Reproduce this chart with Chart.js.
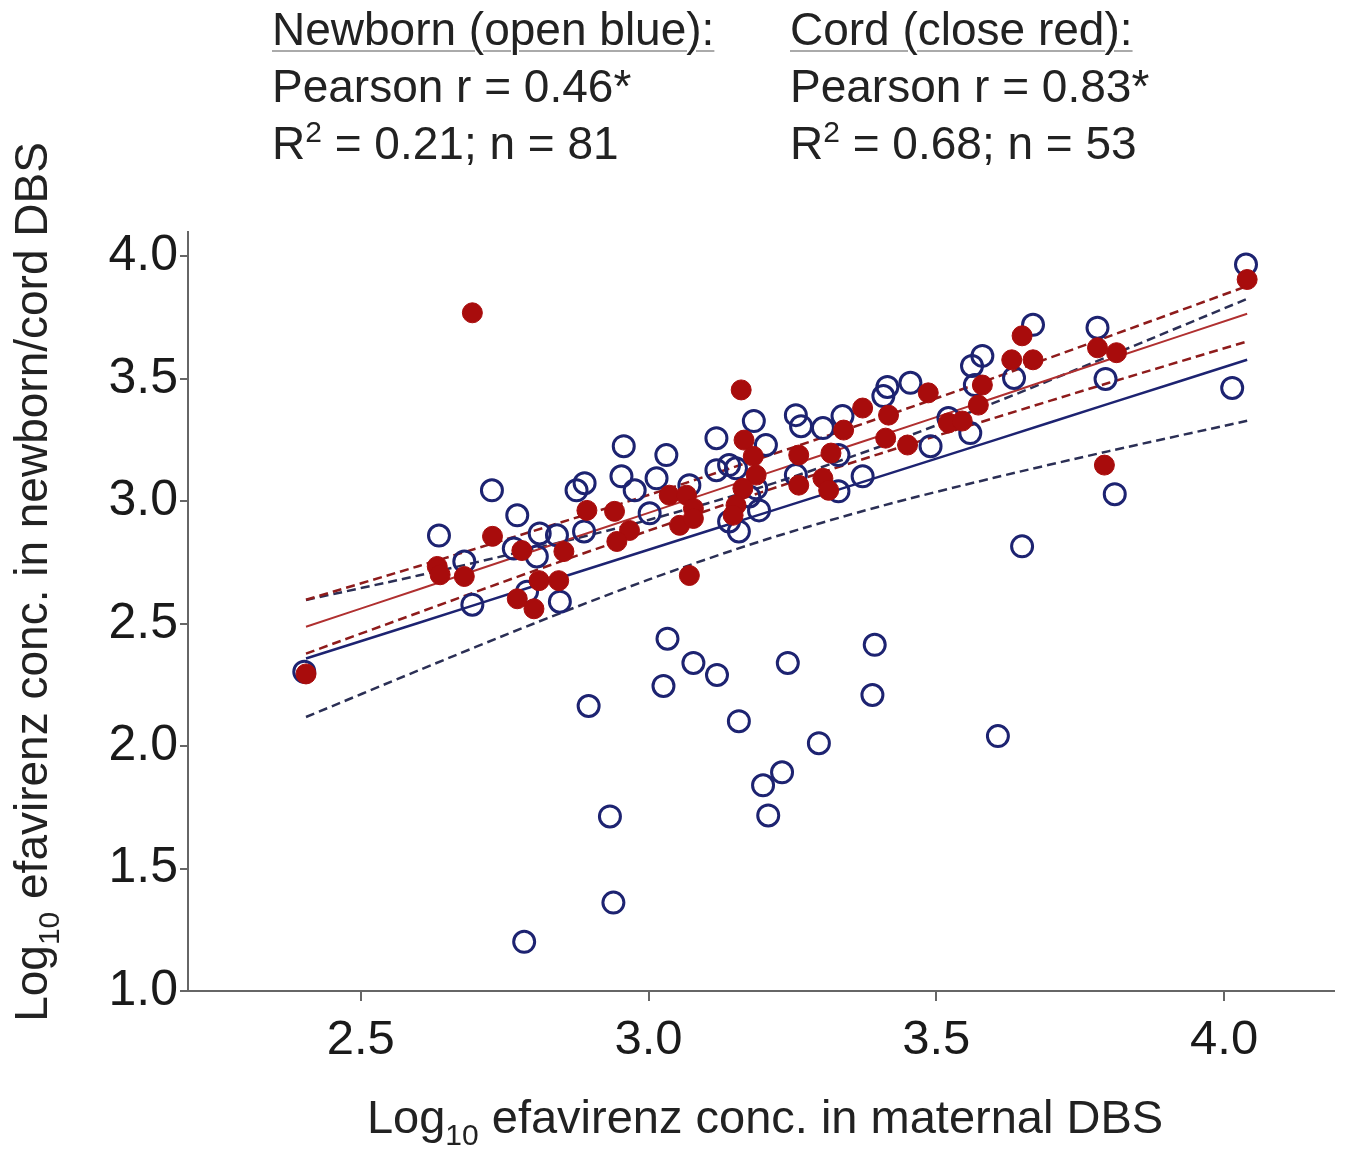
<!DOCTYPE html>
<html>
<head>
<meta charset="utf-8">
<script src="https://cdn.jsdelivr.net/npm/chart.js@4.4.1/dist/chart.umd.min.js"></script>
<style>
  body { margin: 0; background: #fff; font-family: "Liberation Sans", Arial, sans-serif; color: #222; }
  #wrap { position: relative; width: 1347px; height: 1149px; overflow: hidden; }
  #wrap canvas { position: absolute; left: 0; top: 0; }
  .note { position: absolute; top: 1px; font-size: 46px; line-height: 57px; white-space: nowrap; }
  .note u { text-decoration-color: #aaa; text-decoration-thickness: 2px; text-underline-offset: 5px; }
  .sup { font-size: 30px; position: relative; top: -17px; }
  .sub { font-size: 30px; position: relative; top: 12px; }
  .title { position: absolute; line-height: 57px; white-space: nowrap; text-align: center; }
  #xtitle { font-size: 47px; left: 265px; width: 1000px; top: 1088px; }
  #ytitle { font-size: 46px; left: -466px; width: 1000px; top: 551px; transform: rotate(-90deg); }
</style>
</head>
<body>
<div id="wrap">
  <canvas id="scatterChart"></canvas>
  <div class="note" style="left:272px"><u>Newborn (open blue):</u><br>Pearson r = 0.46*<br>R<span class="sup">2</span> = 0.21; n = 81</div>
  <div class="note" style="left:790px"><u>Cord (close red):</u><br>Pearson r = 0.83*<br>R<span class="sup">2</span> = 0.68; n = 53</div>
  <div class="title" id="xtitle">Log<span class="sub">10</span> efavirenz conc. in maternal DBS</div>
  <div class="title" id="ytitle">Log<span class="sub">10</span> efavirenz conc. in newborn/cord DBS</div>
</div>
<script>
// newborn DBS (open blue circles)
const newbornX = [2.402, 2.636, 2.680, 2.694, 2.728, 2.772, 2.766, 2.806, 2.811, 2.841, 2.846, 2.789, 2.875, 2.889, 2.888,
  2.957, 2.953, 2.976, 3.014, 3.031, 3.002, 3.071, 3.118, 3.118, 3.140, 3.152, 3.183, 3.204, 3.175, 3.192, 3.157, 3.140,
  3.187, 3.256, 3.265, 3.303, 3.337, 3.256, 3.330, 3.372, 3.330, 3.408, 3.415, 3.455, 3.490, 3.521, 3.559, 3.562, 3.580,
  3.567, 3.635, 3.668, 3.780, 3.794, 4.014, 4.038, 3.810, 3.649, 3.607, 3.033, 3.078, 3.119, 3.026, 3.242, 3.393, 3.389,
  2.896, 3.157, 3.296, 3.232, 3.199, 3.208, 2.933, 2.939, 2.784];
const newbornY = [2.304, 2.860, 2.754, 2.578, 3.045, 2.943, 2.807, 2.775, 2.869, 2.861, 2.590, 2.631, 3.045, 3.074, 2.877,
  3.225, 3.102, 3.045, 3.094, 3.189, 2.951, 3.066, 3.258, 3.127, 3.148, 3.135, 3.328, 3.230, 3.020, 2.963, 2.877, 2.918,
  3.053, 3.352, 3.307, 3.299, 3.348, 3.107, 3.189, 3.102, 3.041, 3.430, 3.467, 3.484, 3.225, 3.340, 3.279, 3.553, 3.594,
  3.475, 3.504, 3.721, 3.709, 3.500, 3.463, 3.967, 3.029, 2.816, 2.041, 2.439, 2.340, 2.291, 2.246, 2.340, 2.414, 2.209,
  2.164, 2.102, 2.012, 1.893, 1.840, 1.717, 1.713, 1.361, 1.201];

// cord DBS (filled red circles)
const cordX = [2.405, 2.633, 2.638, 2.680, 2.694, 2.729, 2.780, 2.772, 2.801, 2.810, 2.844, 2.853, 2.893, 2.941, 2.967,
  2.945, 3.036, 3.066, 3.078, 3.054, 3.078, 3.071, 3.161, 3.166, 3.182, 3.187, 3.164, 3.152, 3.147, 3.261, 3.261, 3.303,
  3.317, 3.313, 3.339, 3.372, 3.417, 3.412, 3.450, 3.486, 3.521, 3.545, 3.649, 3.631, 3.668, 3.580, 3.573, 3.780, 3.813,
  3.792, 4.040];
const cordY = [2.295, 2.734, 2.700, 2.693, 3.770, 2.857, 2.799, 2.602, 2.561, 2.676, 2.676, 2.795, 2.963, 2.959, 2.881,
  2.836, 3.025, 3.025, 2.971, 2.902, 2.930, 2.697, 3.455, 3.250, 3.184, 3.107, 3.053, 2.984, 2.943, 3.189, 3.066, 3.094,
  3.197, 3.045, 3.291, 3.381, 3.352, 3.258, 3.230, 3.443, 3.320, 3.328, 3.676, 3.578, 3.578, 3.475, 3.393, 3.627, 3.607,
  3.148, 3.906];

// regression lines and 95% bands
const fitX = [2.405, 2.6, 2.8, 3.0, 3.2, 3.4, 3.6, 3.8, 4.04];
const newbornFit = [2.358, 2.503, 2.653, 2.802, 2.951, 3.100, 3.249, 3.399, 3.578];
const newbornUpper = [2.597, 2.697, 2.806, 2.924, 3.061, 3.222, 3.402, 3.593, 3.827];
const newbornLower = [2.119, 2.309, 2.500, 2.680, 2.841, 2.978, 3.096, 3.205, 3.329];
const cordFit = [2.488, 2.640, 2.797, 2.953, 3.110, 3.266, 3.422, 3.579, 3.766];
const cordUpper = [2.598, 2.735, 2.879, 3.026, 3.180, 3.339, 3.504, 3.674, 3.879];
const cordLower = [2.378, 2.545, 2.715, 2.880, 3.040, 3.193, 3.340, 3.484, 3.653];

const xTicks = [2.5, 3.0, 3.5, 4.0];
const yTicks = [1.0, 1.5, 2.0, 2.5, 3.0, 3.5, 4.0];

const BLUE = '#1d2371';
const RED = '#a80c0c';

function pts(xs, ys) {
  return xs.map((x, i) => ({ x: x, y: ys[i] }));
}

function lineSet(ys, color, dashed, width, order) {
  return {
    data: pts(fitX, ys),
    showLine: true,
    borderColor: color,
    borderWidth: width,
    borderDash: dashed ? [9, 5] : [],
    pointRadius: 0,
    tension: 0.3,
    fill: false,
    order: order,
  };
}

const ctx = document.getElementById('scatterChart').getContext('2d');
new Chart(ctx, {
  type: 'scatter',
  data: {
    datasets: [
      {
        label: 'Cord',
        data: pts(cordX, cordY),
        pointRadius: 10,
        pointBackgroundColor: RED,
        pointBorderColor: RED,
        pointBorderWidth: 1,
        order: 0,
      },
      {
        label: 'Newborn',
        data: pts(newbornX, newbornY),
        pointRadius: 10.5,
        pointBackgroundColor: 'rgba(0,0,0,0)',
        pointBorderColor: BLUE,
        pointBorderWidth: 3,
        order: 1,
      },
      lineSet(cordUpper, '#8e1b1b', true, 2.5, 2),
      lineSet(cordLower, '#8e1b1b', true, 2.5, 2),
      lineSet(cordFit, '#b03030', false, 2, 2),
      lineSet(newbornUpper, '#2b2f55', true, 2.5, 3),
      lineSet(newbornLower, '#2b2f55', true, 2.5, 3),
      lineSet(newbornFit, BLUE, false, 2.5, 3),
    ],
  },
  options: {
    responsive: true,
    maintainAspectRatio: false,
    animation: false,
    layout: { padding: { top: 232, right: 9, left: 0, bottom: 0 } },
    plugins: { legend: { display: false }, tooltip: { enabled: false } },
    scales: {
      x: {
        type: 'linear',
        min: 2.2,
        max: 4.19,
        afterFit: (scale) => { scale.height = 158; },
        afterBuildTicks: (scale) => { scale.ticks = xTicks.map(v => ({ value: v })); },
        border: { display: true, color: '#666', width: 2 },
        grid: { drawOnChartArea: false, drawTicks: true, tickLength: 10, color: '#666', lineWidth: 2 },
        ticks: {
          padding: 10,
          color: '#1a1a1a',
          font: { family: '"Liberation Sans", Arial, sans-serif', size: 49 },
          callback: (v) => Number(v).toFixed(1),
        },
      },
      y: {
        type: 'linear',
        min: 1.0,
        max: 4.1,
        afterFit: (scale) => { scale.width = 188; },
        afterBuildTicks: (scale) => { scale.ticks = yTicks.map(v => ({ value: v })); },
        border: { display: true, color: '#666', width: 2 },
        grid: { drawOnChartArea: false, drawTicks: true, tickLength: 8, color: '#666', lineWidth: 2 },
        ticks: {
          padding: 2,
          color: '#1a1a1a',
          font: { family: '"Liberation Sans", Arial, sans-serif', size: 50 },
          callback: (v) => Number(v).toFixed(1),
        },
      },
    },
  },
});
</script>
</body>
</html>
